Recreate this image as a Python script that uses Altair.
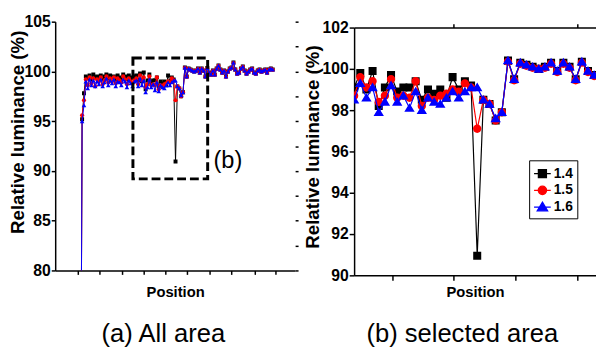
import altair as alt
import pandas as pd

# ---------------- data ----------------
series_names = ["1.4", "1.5", "1.6"]
series_colors = ["#000000", "#ff0000", "#0000ff"]

# (b) selected area : 40 positions
sel_14 = [99.1, 99.8, 99.0, 99.9, 98.2, 99.1, 99.7, 98.9, 99.1, 99.1,
          99.4, 98.5, 99.0, 98.8, 99.0, 98.6, 99.6, 99.0, 99.4, 99.2,
          90.95, 98.5, 98.3, 97.5, 97.9, 100.4, 99.5, 100.3, 100.2, 100.1,
          100.0, 100.1, 100.3, 99.9, 100.3, 100.1, 99.5, 100.35, 99.9, 99.7]
sel_15 = [98.7, 99.6, 99.1, 99.4, 98.4, 98.7, 99.5, 98.6, 98.7, 98.6,
          99.4, 98.2, 98.6, 98.5, 98.7, 98.8, 99.0, 98.9, 99.3, 99.1,
          97.1, 98.5, 98.3, 97.5, 97.9, 100.35, 99.45, 100.25, 100.15, 100.05,
          100.0, 100.05, 100.25, 99.85, 100.25, 100.05, 99.45, 100.3, 99.85, 99.65]
sel_16 = [98.5, 99.3, 98.6, 99.1, 97.9, 98.4, 99.2, 98.4, 98.7, 98.1,
          98.9, 98.0, 98.6, 98.4, 98.3, 98.6, 98.9, 98.6, 98.9, 99.1,
          99.1, 98.5, 98.3, 97.6, 97.9, 100.4, 99.5, 100.3, 100.2, 100.1,
          100.0, 100.1, 100.3, 99.9, 100.3, 100.1, 99.5, 100.35, 99.9, 99.7]

# (a) all area : start, plateau, [selected area], tail
start_14 = [50.0, 95.2, 97.8]
start_15 = [50.0, 95.6, 97.1]
start_16 = [50.0, 95.0, 96.6]
plateau_14 = [99.5, 99.3, 99.6, 99.2, 99.7, 99.4, 99.5, 99.3, 99.6, 99.2,
              99.5, 99.7, 99.3, 99.6, 99.4, 99.5, 99.2, 99.6, 99.4, 99.3,
              99.7, 99.5, 99.2, 99.6, 99.4, 99.3, 99.5, 99.6]
plateau_15 = [99.2, 98.6, 99.4, 98.8, 99.3, 98.5, 99.2, 99.0, 99.4, 98.7,
              99.1, 99.5, 98.9, 99.3, 99.0, 99.4, 98.8, 99.3, 99.1, 98.9,
              99.5, 99.2, 98.7, 99.3, 99.0, 98.8, 99.2, 99.3]
plateau_16 = [99.0, 98.3, 99.2, 98.6, 99.1, 98.5, 99.0, 98.7, 99.2, 98.5,
              98.9, 99.3, 98.6, 99.1, 98.8, 99.2, 98.5, 99.0, 98.9, 98.6,
              99.2, 99.0, 98.4, 99.1, 98.8, 98.5, 99.0, 99.1]
tail_14 = [100.1, 99.7, 100.3, 100.6, 100.2, 99.9, 100.1, 99.5, 100.0, 100.3,
           100.4, 100.9, 100.2, 99.8, 99.9, 100.3, 100.5, 100.1, 99.8, 100.0,
           100.2, 100.3, 99.9, 99.8, 100.1, 100.2, 100.0, 100.1, 100.2, 99.9,
           100.2, 100.3, 100.2]
tail_15 = [100.05, 99.65, 100.25, 100.55, 100.15, 99.85, 100.05, 99.45, 99.95, 100.25,
           100.35, 100.85, 100.15, 99.75, 99.85, 100.25, 100.45, 100.05, 99.75, 99.95,
           100.15, 100.25, 99.85, 99.75, 100.05, 100.15, 99.95, 100.05, 100.15, 99.85,
           100.15, 100.25, 100.15]
tail_16 = [100.1, 99.7, 100.3, 100.6, 100.2, 99.9, 100.1, 99.5, 100.0, 100.3,
           100.4, 100.9, 100.2, 99.8, 99.9, 100.3, 100.5, 100.1, 99.8, 100.0,
           100.2, 100.3, 99.9, 99.8, 100.1, 100.2, 100.0, 100.1, 100.2, 99.9,
           100.2, 100.3, 100.2]

left_x_ticks = [-1.3, 10.3, 22.4, 34.0, 45.5, 57.1, 69.2, 80.8, 93.4, 104.5]
left_y_ticks = [80, 85, 90, 95, 100, 105]
left_y_minor = [80, 82.5, 85, 87.5, 90, 92.5, 95, 97.5, 100, 102.5, 105]
right_x_ticks = [6.2, 16.1, 26.2, 36.3]
right_top_ticks = [16.1, 36.3]
right_y_ticks = [90, 92, 94, 96, 98, 100, 102]

box_x = [28.2, 68.2]
box_y = [89.2, 101.35]
box_label = "(b)"
box_label_at = [79.0, 91.0]

FONT_B = "Liberation Sans Narrow, Arial Narrow, Liberation Sans, Arial, sans-serif"
FONT_T = "Liberation Sans, Arial, sans-serif"


def long_frame(list_of_lists):
    rows = []
    for name, vals in zip(series_names, list_of_lists):
        for k, v in enumerate(vals):
            rows.append({"pos": k, "lum": v, "series": name})
    return pd.DataFrame(rows)


full_14 = start_14 + plateau_14 + sel_14 + tail_14
full_15 = start_15 + plateau_15 + sel_15 + tail_15
full_16 = start_16 + plateau_16 + sel_16 + tail_16
left_df = long_frame([full_14, full_15, full_16])
right_df = long_frame([sel_14, sel_15, sel_16])

# ---------------- left panel ----------------
xs_l = alt.Scale(domain=[-13.4, 115.0], nice=False, zero=False)
ys_l = alt.Scale(domain=[80, 105], nice=False, zero=False)
x_l = alt.X("pos:Q", scale=xs_l,
            axis=alt.Axis(values=left_x_ticks, labels=False, tickSize=4,
                          title="Position", titlePadding=10, titleFontSize=15))
y_l = alt.Y("lum:Q", scale=ys_l,
            axis=alt.Axis(values=left_y_ticks, tickSize=4, labelPadding=1,
                          title="Relative luminance (%)", titleFont=FONT_T,
                          titleFontSize=19, titleX=-32, titleY=112,
                          titleBaseline="alphabetic"))

small_shapes = ["square", "circle", "triangle-up"]
small_sizes = [16, 18, 22]
left_layers = []
for name, col, shp, sz in zip(series_names, series_colors, small_shapes, small_sizes):
    base = alt.Chart(left_df[left_df["series"] == name]).encode(x=x_l, y=y_l)
    left_layers.append(base.mark_line(color=col, strokeWidth=1, clip=True))
    left_layers.append(base.mark_point(color=col, shape=shp, filled=True, size=sz,
                                       opacity=1, clip=True))

label_df = pd.DataFrame({"pos": [box_label_at[0]], "lum": [box_label_at[1]], "txt": [box_label]})
left_layers.append(alt.Chart(label_df).mark_text(font=FONT_T, fontSize=24, align="center",
                                                 baseline="middle", color="black")
                   .encode(x=x_l, y=y_l, text="txt:N"))

box_df = pd.DataFrame({"pos": [box_x[0]], "pos2": [box_x[1]],
                       "lum": [box_y[0]], "lum2": [box_y[1]]})
box = alt.Chart(box_df).mark_rect(fill="white", fillOpacity=0, stroke="black",
                                  strokeWidth=3, strokeDash=[9, 4]).encode(
    x=x_l, x2="pos2:Q",
    y=alt.Y("lum:Q", scale=ys_l,
            axis=alt.Axis(orient="right", values=left_y_minor, labels=False,
                          domain=False, tickSize=3, title=None)),
    y2="lum2:Q")

left = alt.layer(alt.layer(*left_layers), box).resolve_scale(y="independent").properties(
    width=244, height=253,
    title=alt.TitleParams("(a) All area", orient="bottom", font=FONT_T, fontSize=26,
                          fontWeight="normal", anchor="middle", frame="group",
                          offset=22, dx=-12, color="black"))

# ---------------- right panel ----------------
xs_r = alt.Scale(domain=[0, 39.3], nice=False, zero=False)
ys_r = alt.Scale(domain=[90, 102], range=[258, 6], nice=False, zero=False)
x_r = alt.X("pos:Q", scale=xs_r,
            axis=alt.Axis(values=right_x_ticks, labels=False, tickSize=5,
                          title="Position", titlePadding=4, titleFontSize=15))
y_r = alt.Y("lum:Q", scale=ys_r,
            axis=alt.Axis(values=right_y_ticks, tickSize=5, labelPadding=1,
                          title="Relative luminance (%)", titleFont=FONT_T,
                          titleFontSize=19, titleX=-36, titleY=127,
                          titleBaseline="alphabetic"))

legend = alt.Legend(title=None, orient="none", legendX=178, legendY=141,
                    strokeColor="black", fillColor="white", padding=4,
                    symbolSize=289, symbolStrokeWidth=1.3, labelFont=FONT_B,
                    labelFontSize=14, labelFontWeight="bold", labelColor="black",
                    labelOffset=2, rowPadding=0)
legend_paths = ["M-1,0H1M-0.48,-0.48H0.48V0.48H-0.48Z",
                "M-1,0H1M-0.5,0A0.5,0.5 0 1,0 0.5,0A0.5,0.5 0 1,0 -0.5,0Z",
                "M-1,0H1M0,-0.58L0.62,0.45L-0.62,0.45Z"]
cs = alt.Scale(domain=series_names, range=series_colors)
ss = alt.Scale(domain=series_names, range=legend_paths)

right_layers = []
for name, col in zip(series_names, series_colors):
    base = alt.Chart(right_df[right_df["series"] == name]).encode(x=x_r, y=y_r)
    right_layers.append(base.mark_line(color=col, strokeWidth=1.2, clip=True))
    right_layers.append(base.mark_point(filled=True, size=289, strokeWidth=0, opacity=1,
                                        clip=True).encode(
        color=alt.Color("series:N", scale=cs, legend=legend),
        shape=alt.Shape("series:N", scale=ss, legend=legend),
        stroke=alt.Stroke("series:N", scale=cs, legend=legend)))

top_df = pd.DataFrame({"pos": [10.0], "lum": [95.0]})
top_axis = alt.Chart(top_df).mark_point(opacity=0).encode(
    x=alt.X("pos:Q", scale=xs_r,
            axis=alt.Axis(orient="top", values=right_top_ticks, labels=False,
                          tickSize=4, offset=-6, title=None)),
    y=y_r)

right = alt.layer(alt.layer(*right_layers), top_axis).resolve_scale(x="independent").properties(
    width=246, height=258,
    title=alt.TitleParams("(b) selected area", orient="bottom", font=FONT_T, fontSize=26,
                          fontWeight="normal", anchor="middle", frame="group",
                          offset=22, dx=-13, color="black"))

chart = alt.hconcat(left, right, spacing=60, bounds="flush").resolve_scale(
    color="independent", shape="independent", stroke="independent"
).properties(
    padding={"left": 0, "top": 3, "right": 0, "bottom": 0},
    background="white"
).configure_view(stroke=None).configure_axis(
    domainColor="black", tickColor="black", domainWidth=1.5, tickWidth=1.5,
    labelColor="black", titleColor="black", grid=False,
    labelFont=FONT_B, labelFontWeight="bold", labelFontSize=16,
    titleFont=FONT_B, titleFontWeight="bold"
)

chart.save("out.html", embed_options={"renderer": "svg", "actions": False})
